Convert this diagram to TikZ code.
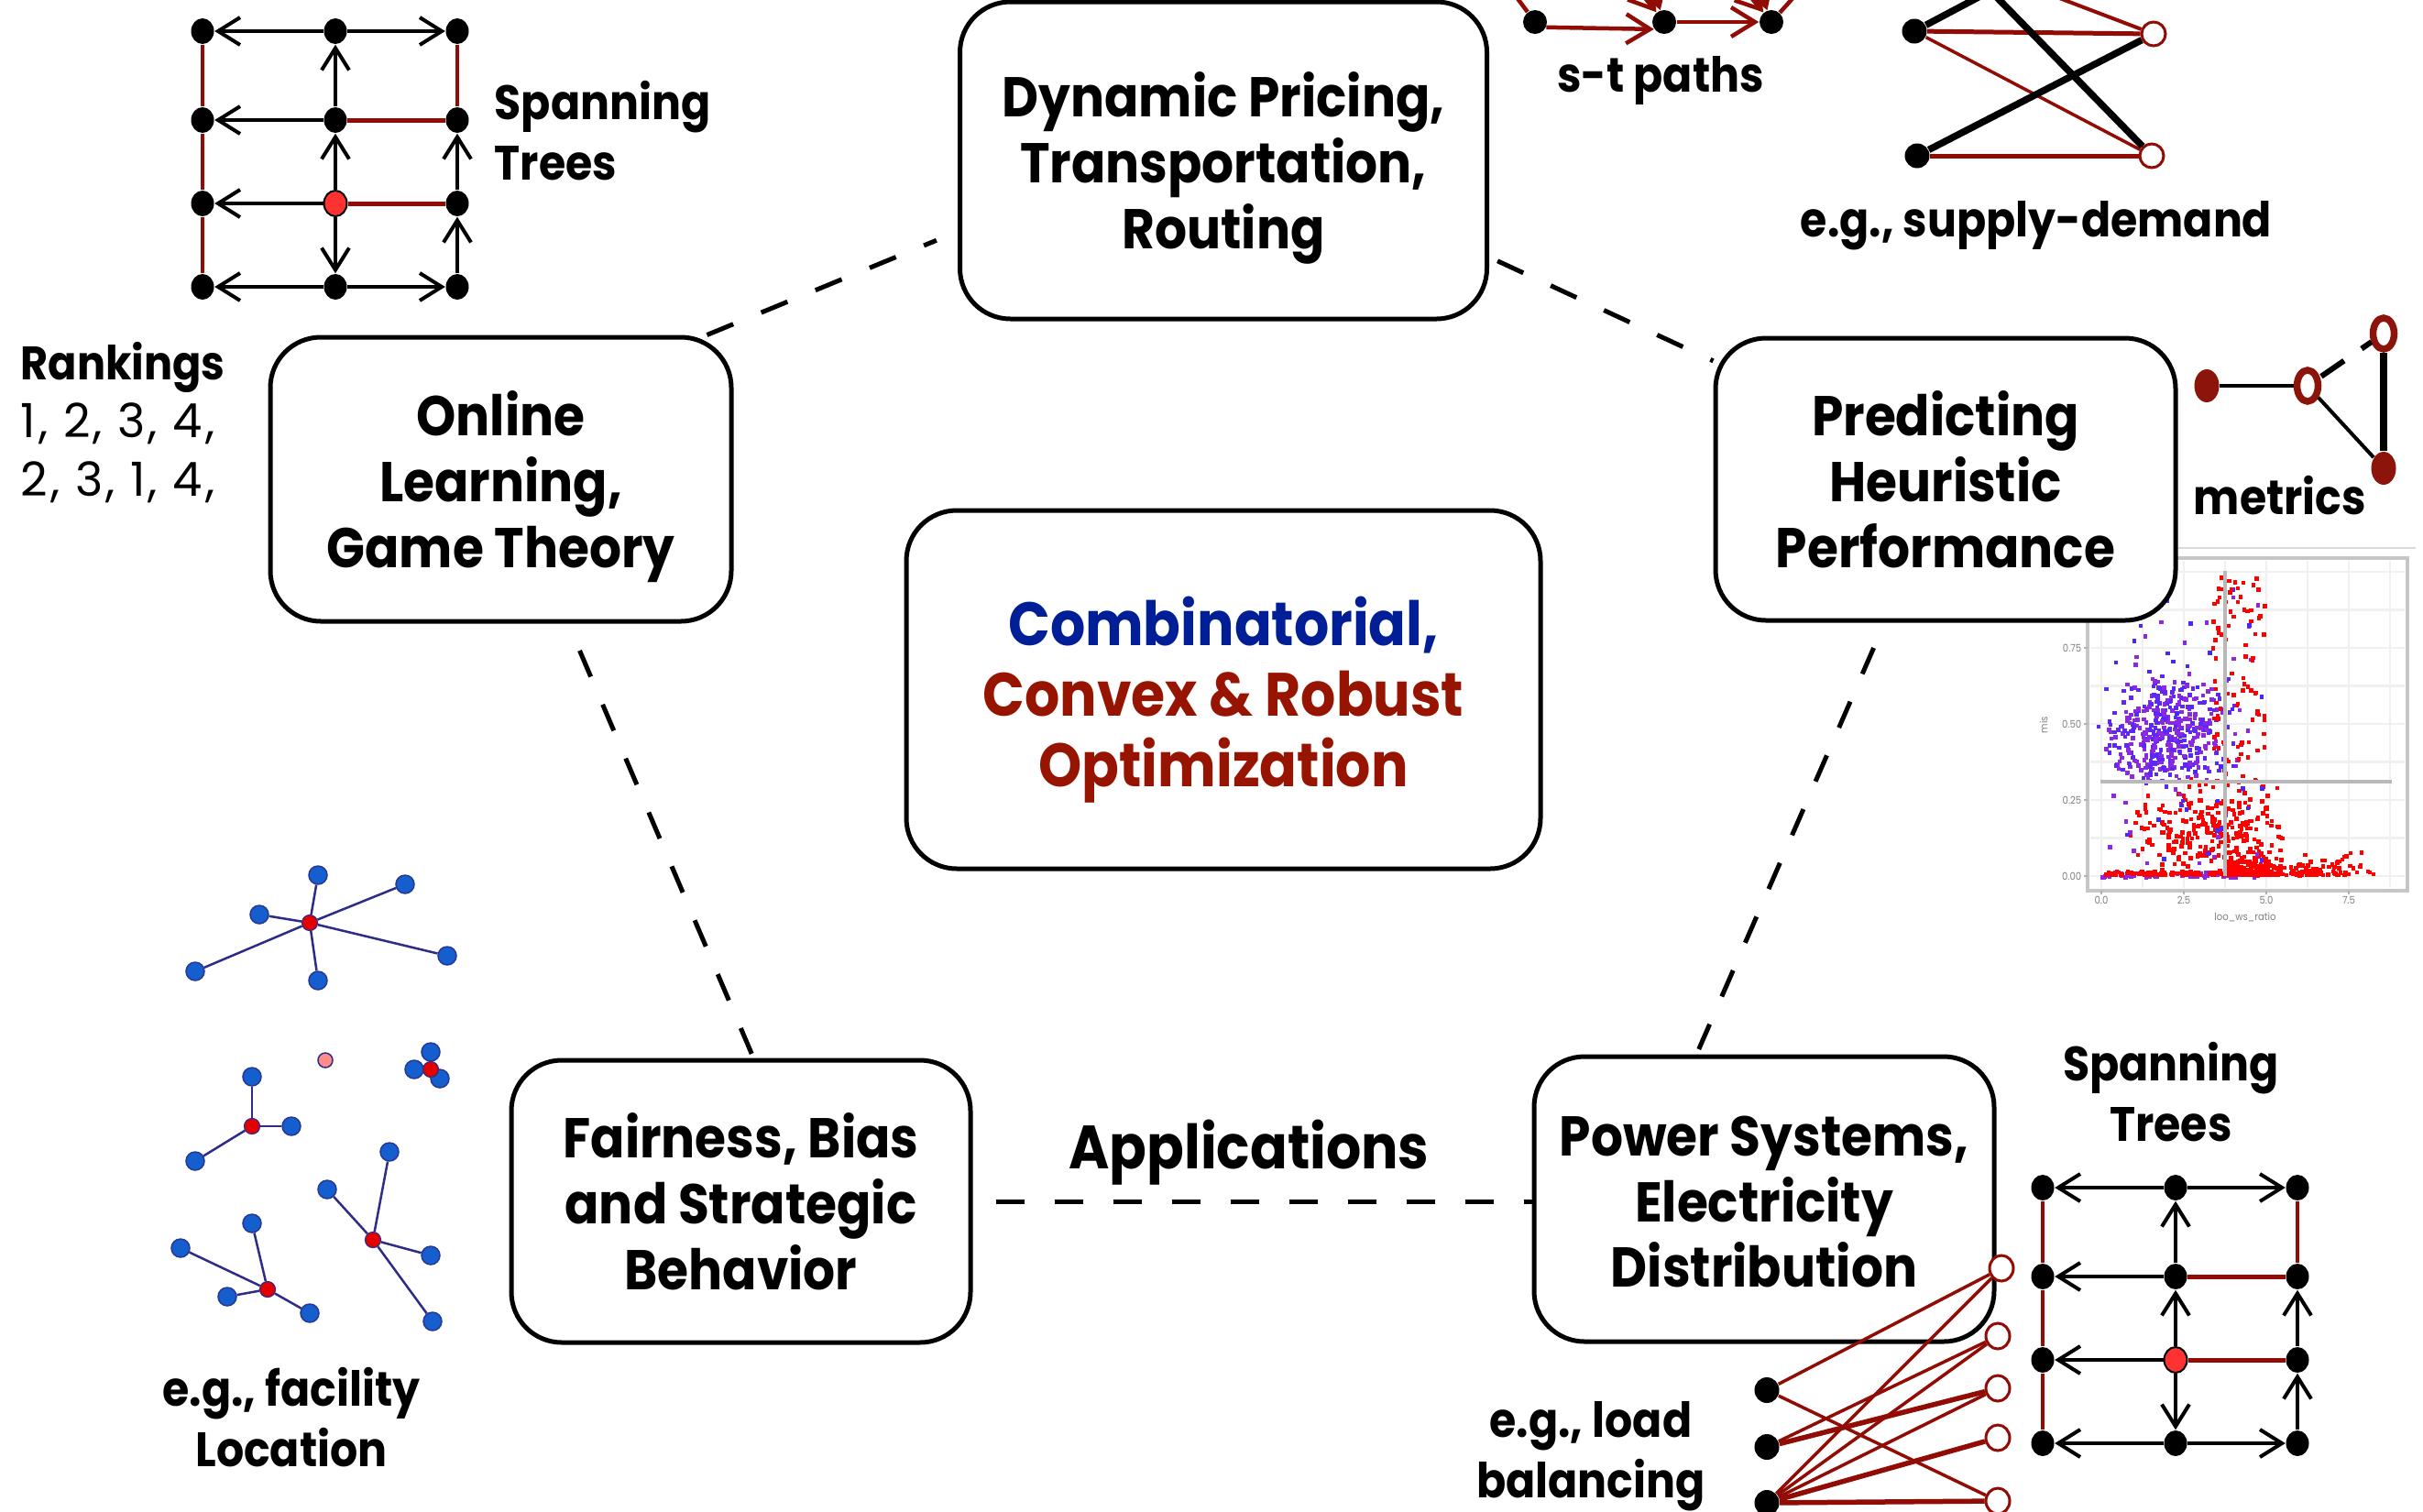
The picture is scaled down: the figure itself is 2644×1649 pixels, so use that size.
\documentclass[tikz,border=0pt]{standalone}
\usepackage{fontspec}
\setmainfont{Poppins}[FakeStretch=0.9]
\newfontfamily\rankfont{Poppins}[LetterSpace=6]
\usetikzlibrary{arrows.meta,calc,shapes.geometric}
\definecolor{dred}{RGB}{145,12,5}
\definecolor{tblue}{RGB}{0,30,150}
\definecolor{tred}{RGB}{150,20,0}
\definecolor{ptred}{RGB}{255,50,50}
\definecolor{fblue}{RGB}{20,95,205}
\definecolor{fedge}{RGB}{45,45,135}
\definecolor{mred}{RGB}{140,20,10}
\definecolor{pblue}{RGB}{70,40,255}
\definecolor{ppurp}{RGB}{140,40,225}
\newcommand\myboxfont{\fontsize{17.4}{20.4}\selectfont\bfseries}
\newcommand\mycenfont{\fontsize{19}{21.9}\selectfont\bfseries}
\newcommand\mylabfont{\fontsize{15}{18.6}\selectfont\bfseries}
\newcommand\sptree[3]{%
\begin{scope}[shift={(#2,#3)}]
  \node[gn] (#1x11) at (0,0) {};
  \node[gn] (#1x12) at (145,0) {};
  \node[gn] (#1x13) at (278,0) {};
  \node[gn] (#1x21) at (0,97) {};
  \node[gn] (#1x22) at (145,97) {};
  \node[gn] (#1x23) at (278,97) {};
  \node[gn] (#1x31) at (0,188) {};
  \node[gn,fill=ptred,draw=black,line width=0.2mm] (#1x32) at (145,188) {};
  \node[gn] (#1x33) at (278,188) {};
  \node[gn] (#1x41) at (0,279) {};
  \node[gn] (#1x42) at (145,279) {};
  \node[gn] (#1x43) at (278,279) {};
  \draw[barb] (#1x12) -- (#1x11);
  \draw[barb] (#1x12) -- (#1x13);
  \draw[barb] (#1x22) -- (#1x21);
  \draw[redthick] (#1x22) -- (#1x23);
  \draw[barb] (#1x32) -- (#1x31);
  \draw[redthick] (#1x32) -- (#1x33);
  \draw[barb] (#1x42) -- (#1x41);
  \draw[barb] (#1x42) -- (#1x43);
  \draw[redthin] (#1x11) -- (#1x21);
  \draw[redthin] (#1x21) -- (#1x31);
  \draw[redthin] (#1x31) -- (#1x41);
  \draw[barb] (#1x22) -- (#1x12);
  \draw[barb] (#1x32) -- (#1x22);
  \draw[barb] (#1x32) -- (#1x42);
  \draw[redthin] (#1x13) -- (#1x23);
  \draw[barb] (#1x33) -- (#1x23);
  \draw[barb] (#1x43) -- (#1x33);
\end{scope}}
\begin{document}
\begin{tikzpicture}[x=0.1mm,y=-0.1mm,
  topic/.style={draw,line width=0.5mm,rounded corners=5.5mm,fill=white,align=center,inner sep=0pt,font=\myboxfont,text height=54.8pt,text depth=0pt},
  conn/.style={line width=0.5mm,dash pattern=on 3.1mm off 3.3mm},
  gn/.style={ellipse,fill=black,inner sep=0pt,minimum width=2.5mm,minimum height=2.8mm},
  on/.style={ellipse,fill=white,draw=dred,line width=0.3mm,inner sep=0pt,minimum width=2.5mm,minimum height=2.7mm},
  barb/.style={line width=0.4mm,-{Straight Barb[length=2.4mm,width=3mm]}},
  redthick/.style={dred,line width=0.5mm},
  redthin/.style={dred,line width=0.35mm},
  starrow/.style={dred,line width=0.45mm,-{Straight Barb[length=2.6mm,width=3.2mm]}},
  lab/.style={font=\mylabfont,inner sep=0pt},
  fb/.style={circle,fill=fblue,draw=fedge!80!fblue,line width=0.15mm,inner sep=0pt,minimum size=2mm},
  fr/.style={circle,fill=red!90!black,draw=fedge,line width=0.12mm,inner sep=0pt,minimum size=1.7mm},
  fe/.style={fedge,line width=0.25mm},
  mf/.style={ellipse,fill=mred,inner sep=0pt,minimum width=2.7mm,minimum height=3.6mm},
  mo/.style={ellipse,fill=white,draw=mred,line width=0.75mm,inner sep=0pt,minimum width=2.3mm,minimum height=3.4mm},
  tick/.style={font=\fontsize{3.2}{3.5}\selectfont,text=gray,inner sep=0pt}
]
\useasboundingbox (0,0) rectangle (2644,1649);
\clip (0,0) rectangle (2644,1649);
\fill[white] (0,0) rectangle (2644,1649);

% ---------- scatter plot ----------
\draw[gray!30,line width=0.2mm] (2377,598) -- (2636,598);
\foreach \gx in {2293,2338,2383,2428,2473,2518,2563,2608}
  \draw[gray!12,line width=0.25mm] (\gx,612) -- (\gx,969);
\foreach \gy in {956,914.5,873,831.5,790,748.5,707,665.5,624}
  \draw[gray!12,line width=0.25mm] (2281,\gy) -- (2624,\gy);
\draw[gray!45,line width=0.35mm] (2278,609) rectangle (2627,972);
\foreach \t/\gy in {0.75/707,0.50/790,0.25/873,0.00/956}{
  \node[tick,anchor=east] at (2272,\gy) {\t};
  \draw[gray!60,line width=0.15mm] (2274,\gy) -- (2278,\gy);}
\foreach \t/\gx in {0.0/2293,2.5/2383,5.0/2473,7.5/2563}{
  \node[tick,anchor=north] at (\gx,978) {\t};
  \draw[gray!60,line width=0.15mm] (\gx,972) -- (\gx,976);}
\node[tick,anchor=north] (xlab) at (2450,995) {loo\_ws\_ratio};
\node[tick,rotate=90] (ylab) at (2230,791) {mis};
\pgfmathsetseed{11}
\foreach \i in {1,...,70}{
  \pgfmathsetmacro\px{2292+170*rnd}
  \pgfmathsetmacro\py{950+6*rnd}
  \fill[ppurp] (\px,\py) rectangle +(4.5,4.5);}
\foreach \i in {1,...,300}{
  \pgfmathsetmacro\px{2430+180*rnd*rnd}
  \pgfmathsetmacro\py{953-28*rnd*rnd}
  \fill[red] (\px,\py) rectangle +(4.5,4.5);}
\foreach \i in {1,...,80}{
  \pgfmathsetmacro\px{2292+140*rnd}
  \pgfmathsetmacro\py{953-4*rnd}
  \fill[red] (\px,\py) rectangle +(4.5,4.5);}
\foreach \i in {1,...,260}{
  \pgfmathsetmacro\px{2410+45*(rand+rand)}
  \pgfmathsetmacro\py{900+27*(rand+rand)}
  \fill[red] (\px,\py) rectangle +(4.5,4.5);}
\foreach \i in {1,...,90}{
  \pgfmathsetmacro\px{2300+170*rnd}
  \pgfmathsetmacro\py{640+310*rnd}
  \ifodd\i \fill[pblue] (\px,\py) rectangle +(4.5,4.5); \else \fill[ppurp] (\px,\py) rectangle +(4.5,4.5); \fi}
\foreach \i in {1,...,420}{
  \pgfmathsetmacro\px{2365+40*(rand+rand)}
  \pgfmathsetmacro\py{795+33*(rand+rand)}
  \ifodd\i \fill[ppurp] (\px,\py) rectangle +(4.5,4.5); \else \fill[pblue!70!ppurp] (\px,\py) rectangle +(4.5,4.5); \fi}
\foreach \i in {1,...,90}{
  \pgfmathsetmacro\px{2440+30*rand}
  \pgfmathsetmacro\py{625+230*rnd}
  \fill[red] (\px,\py) rectangle +(4.5,4.5);}
\draw[gray!55,line width=0.35mm] (2428,623) -- (2428,956);
\draw[gray!55,line width=0.35mm] (2292,853) -- (2610,853);

% ---------- topic boxes ----------
\node[topic,minimum width=57.5mm,minimum height=34.6mm] (dyn) at (1335,175) {Dynamic Pricing,\\Transportation,\\Routing};
\node[topic,minimum width=50.3mm,minimum height=31mm] (onl) at (546.5,523) {Online\\Learning,\\Game Theory};
\node[topic,minimum width=50.2mm,minimum height=30.8mm] (pred) at (2123,523) {Predicting\\Heuristic\\Performance};
\node[topic,minimum width=69.2mm,minimum height=39.1mm,font=\mycenfont,text height=60.4pt,text depth=0pt] (opt) at (1335,752.5) {\textcolor{tblue}{Combinatorial,}\\\textcolor{tred}{Convex \& Robust}\\\textcolor{tred}{Optimization}};
\node[topic,minimum width=50.1mm,minimum height=30.8mm] (fair) at (808.5,1311) {Fairness, Bias\\and Strategic\\Behavior};
\node[topic,minimum width=50.2mm,minimum height=31.1mm] (pow) at (1925,1308.5) {Power Systems,\\Electricity\\Distribution};

% ---------- dashed connectors ----------
\draw[conn,shorten >=2.5mm] (onl.35) -- (dyn.195);
\draw[conn,shorten <=1mm] (dyn.340) -- (pred.153);
\draw[conn,shorten <=3.2mm,shorten >=0.5mm] (onl.295) -- (fair.85);
\draw[conn,shorten <=3mm,shorten >=0.6mm] (pred.247) -- (pow.115);
\draw[conn,shorten <=2.5mm] (fair.east) -- (fair.east -| pow.west);
\node[font=\mycenfont,anchor=base,inner sep=0pt] (appl) at (1363,1275) {Applications};

% ---------- spanning trees ----------
\sptree{ta}{221}{34}
\node[lab,anchor=base west,align=left] (sptl) at (539,196) {Spanning\\Trees};
\sptree{tb}{2229}{1296}
\node[lab,anchor=base,align=center] (spbr) at (2369,1245) {Spanning\\Trees};

% ---------- rankings ----------
\node[inner sep=0pt,anchor=base west,align=left,font=\fontsize{14.6}{18}\selectfont] (rank) at (22,541) {\textbf{Rankings}\\{\rankfont 1, 2, 3, 4,}\\{\rankfont 2, 3, 1, 4,}};

% ---------- s-t paths ----------
\node[gn,minimum width=2.6mm,minimum height=2.6mm] (st1) at (1675,24) {};
\node[gn,minimum width=2.6mm,minimum height=2.6mm] (st2) at (1816,24) {};
\node[gn,minimum width=2.6mm,minimum height=2.6mm] (st3) at (1933,24) {};
\coordinate (u1) at (1765,-40);
\coordinate (u2) at (1790,-55);
\coordinate (u3) at (1880,-40);
\coordinate (u4) at (1905,-55);
\coordinate (u5) at (1646,-15);
\coordinate (u6) at (1968,-15);
\draw[starrow] (st1.-25) -- (st2.215);
\draw[starrow] (st2) -- (st3);
\draw[starrow] (u1) -- (st2);
\draw[starrow] (u2) -- (st2);
\draw[starrow] (u3) -- (st3);
\draw[starrow] (u4) -- (st3);
\draw[dred,line width=0.45mm] (st1) -- (u5);
\draw[dred,line width=0.45mm] (st3) -- (u6);
\node[lab,anchor=base] (stl) at (1812,100) {s-t paths};

% ---------- supply-demand ----------
\node[gn,minimum width=2.7mm,minimum height=2.7mm] (sl1) at (2089,34) {};
\node[gn,minimum width=2.7mm,minimum height=2.7mm] (sl2) at (2092,170) {};
\node[on,minimum width=2.6mm,minimum height=2.6mm] (sr1) at (2350,37) {};
\node[on,minimum width=2.6mm,minimum height=2.6mm] (sr2) at (2348,170) {};
\coordinate (sx) at (2172,-10);
\coordinate (sy) at (2200,-20);
\draw[dred,line width=0.5mm] (sl1) -- (sr1);
\draw[dred,line width=0.35mm] (sl1) -- (sr2);
\draw[dred,line width=0.5mm] (sl2) -- (sr2);
\draw[dred,line width=0.4mm] (sy) -- (sr1);
\draw[line width=0.75mm] (sl1) -- (sx) -- (sr2);
\draw[line width=0.75mm] (sl2) -- (sr1);
\node[lab,anchor=base] (sdl) at (2222,258) {e.g., supply-demand};

% ---------- metrics ----------
\node[mf] (mA) at (2408,421) {};
\node[mo] (mB) at (2518,421) {};
\node[mo] (mC) at (2601,364) {};
\node[mf] (mD) at (2601,511) {};
\draw[line width=0.35mm] (mA) -- (mB);
\draw[line width=0.6mm] ($(mB)!0.18!(mC)$) -- ($(mB)!0.48!(mC)$);
\draw[line width=0.6mm] ($(mB)!0.71!(mC)$) -- ($(mB)!0.84!(mC)$);
\draw[line width=0.4mm] (mB) -- (mD);
\draw[line width=0.75mm] (mC) -- (mD);
\node[lab,anchor=base] (mlab) at (2488,561) {metrics};

% ---------- facility location ----------
\foreach \n/\x/\y in {a1/347/955,a2/442/965,a3/283/998,a4/488/1043,a5/213/1060,a6/347/1070,
  b1/470/1148,b2/452/1167,b3/480/1177,
  d1/275/1175,d2/318/1229,d3/213/1267,
  e1/425/1257,e2/357/1298,e3/470/1370,e4/472/1442,
  g1/275/1335,g2/197/1362,g3/248/1415,g4/338/1433}
  \node[fb] (\n) at (\x,\y) {};
\node[circle,fill=red!45!white,draw=fedge,line width=0.15mm,inner sep=0pt,minimum size=1.6mm] (iso) at (355,1157) {};
\foreach \n/\x/\y in {c1/338/1007,c2/470/1167,c3/275/1229,c4/407/1353,c5/292/1407}
  \node[fr] (\n) at (\x,\y) {};
\foreach \c/\n in {c1/a1,c1/a2,c1/a3,c1/a4,c1/a5,c1/a6,c3/d1,c3/d2,c3/d3,c4/e1,c4/e2,c4/e3,c4/e4,c5/g1,c5/g2,c5/g3,c5/g4}
  \draw[fe] (\c) -- (\n);
\node[lab,anchor=base,align=center] (facl) at (318,1600) {e.g., facility\\Location};

% ---------- load balancing ----------
\node[gn,minimum width=2.7mm,minimum height=2.8mm] (lb1) at (1928,1517) {};
\node[gn,minimum width=2.7mm,minimum height=2.8mm] (lb2) at (1928,1579) {};
\node[gn,minimum width=2.7mm,minimum height=2.8mm] (lb3) at (1928,1640) {};
\node[on,minimum width=2.6mm,minimum height=2.8mm] (rb1) at (2184,1384) {};
\node[on,minimum width=2.6mm,minimum height=2.8mm] (rb2) at (2180,1458) {};
\node[on,minimum width=2.6mm,minimum height=2.8mm] (rb3) at (2180,1515) {};
\node[on,minimum width=2.6mm,minimum height=2.8mm] (rb4) at (2180,1569) {};
\node[on,minimum width=2.6mm,minimum height=2.8mm] (rb5) at (2180,1638) {};
\foreach \a/\b in {lb1/rb1,lb1/rb5,lb2/rb2,lb3/rb1,lb3/rb2,lb3/rb3}
  \draw[dred,line width=0.35mm] (\a) -- (\b);
\foreach \a/\b in {lb2/rb3,lb3/rb4,lb3/rb5}
  \draw[dred,line width=0.55mm] (\a) -- (\b);
\node[lab,anchor=base,align=center] (lbl) at (1736,1634) {e.g., load\\balancing};
\end{tikzpicture}
\end{document}
